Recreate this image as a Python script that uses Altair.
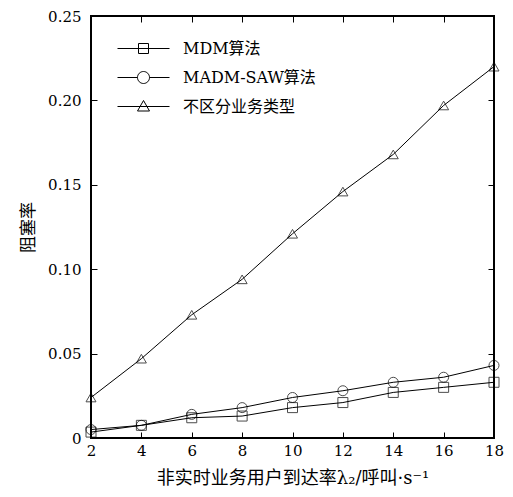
import altair as alt
import pandas as pd

x_vals = [2, 4, 6, 8, 10, 12, 14, 16, 18]
mdm = [0.0035, 0.0075, 0.012, 0.013, 0.018, 0.021, 0.027, 0.030, 0.033]
madm_saw = [0.005, 0.0075, 0.014, 0.018, 0.024, 0.028, 0.033, 0.036, 0.043]
no_diff = [0.024, 0.047, 0.073, 0.094, 0.121, 0.146, 0.168, 0.197, 0.220]
series_names = ["MDM算法", "MADM-SAW算法", "不区分业务类型"]
y_ticks = [0, 0.05, 0.10, 0.15, 0.20, 0.25]
x_ticks = [2, 4, 6, 8, 10, 12, 14, 16, 18]
x_title = "非实时业务用户到达率λ₂/呼叫·s⁻¹"
y_title = "阻塞率"

rows = []
for name, vals in zip(series_names, [mdm, madm_saw, no_diff]):
    for xv, yv in zip(x_vals, vals):
        rows.append({"x": xv, "y": yv, "series": name})
df = pd.DataFrame(rows)

W, H = 403, 422
SERIF = "DejaVu Serif"
CJK = "DejaVu Serif, Noto Sans CJK SC"

x_scale = alt.Scale(domain=[2, 18], nice=False)
y_scale = alt.Scale(domain=[0, 0.25], nice=False, zero=True)
y_label_expr = "datum.value == 0 ? '0' : format(datum.value, '.2f')"

x_main = alt.Axis(orient="bottom", values=x_ticks, grid=False, ticks=False, tickSize=0,
                  domain=False, labelFlush=False, labelOverlap=False, labelFont=SERIF,
                  labelFontSize=15, labelColor="black", labelPadding=5, title=x_title,
                  titleFont=CJK, titleFontSize=18, titleFontWeight="normal",
                  titleColor="black", titlePadding=11)
y_main = alt.Axis(orient="left", values=y_ticks, grid=False, ticks=False, tickSize=0,
                  domain=False, labelFlush=False, labelOverlap=False, labelExpr=y_label_expr,
                  labelFont=SERIF, labelFontSize=15, labelColor="black", labelPadding=10,
                  title=y_title, titleFont=CJK, titleFontSize=17, titleFontWeight="normal",
                  titleColor="black", titlePadding=10)

def tick_axis(orient, offset, values):
    return alt.Axis(orient=orient, offset=offset, values=values, grid=False, labels=False,
                    domain=False, ticks=True, tickSize=6, tickColor="black", tickWidth=1,
                    title=None)

lines = alt.Chart(df).mark_line(color="black", strokeWidth=1).encode(
    x=alt.X("x:Q", scale=x_scale, axis=x_main),
    y=alt.Y("y:Q", scale=y_scale, axis=y_main),
    detail="series:N",
)

points = alt.Chart(df).mark_point(color="black", filled=False, size=100, strokeWidth=1).encode(
    x=alt.X("x:Q", scale=x_scale, axis=tick_axis("top", -H, x_ticks)),
    y=alt.Y("y:Q", scale=y_scale, axis=tick_axis("right", -W, y_ticks)),
    shape=alt.Shape("series:N",
                    scale=alt.Scale(domain=series_names, range=["square", "circle", "triangle-up"]),
                    legend=None),
)

legend_paths = [
    "M-2.6,0H2.6M-0.5,-0.5H0.5V0.5H-0.5Z",
    "M-2.6,0H-0.6M0.6,0H2.6M0.6,0A0.6,0.6 0 1,1 -0.6,0A0.6,0.6 0 1,1 0.6,0",
    "M-2.6,0H2.6M0,-0.6L0.6,0.45L-0.6,0.45Z",
]

legend_layer = alt.Chart(df).transform_filter(alt.datum.x < 0).mark_point(
    color="black", filled=False, size=400, strokeWidth=1
).encode(
    x=alt.X("x:Q", scale=x_scale, axis=tick_axis("bottom", -H, x_ticks)),
    y=alt.Y("y:Q", scale=y_scale, axis=tick_axis("left", -W, y_ticks)),
    shape=alt.Shape("series:N",
                    scale=alt.Scale(domain=series_names, range=legend_paths),
                    legend=alt.Legend(orient="none", legendX=42, legendY=22, title=None,
                                      padding=0, symbolSize=400, symbolStrokeColor="black",
                                      symbolFillColor="transparent", symbolStrokeWidth=1,
                                      symbolOpacity=1, labelFont=CJK, labelFontSize=16,
                                      labelColor="black", labelOffset=29, rowPadding=10,
                                      labelLimit=300)),
)

chart = alt.layer(lines, points, legend_layer).resolve_scale(
    shape="independent"
).resolve_axis(
    x="independent", y="independent"
).properties(
    width=W, height=H,
    autosize=alt.AutoSizeParams(type="none"),
    padding={"left": 83, "top": 8, "right": 10, "bottom": 51},
).configure_view(stroke="black", strokeWidth=2)

chart.save("out.html", embed_options={"renderer": "svg", "actions": False})
